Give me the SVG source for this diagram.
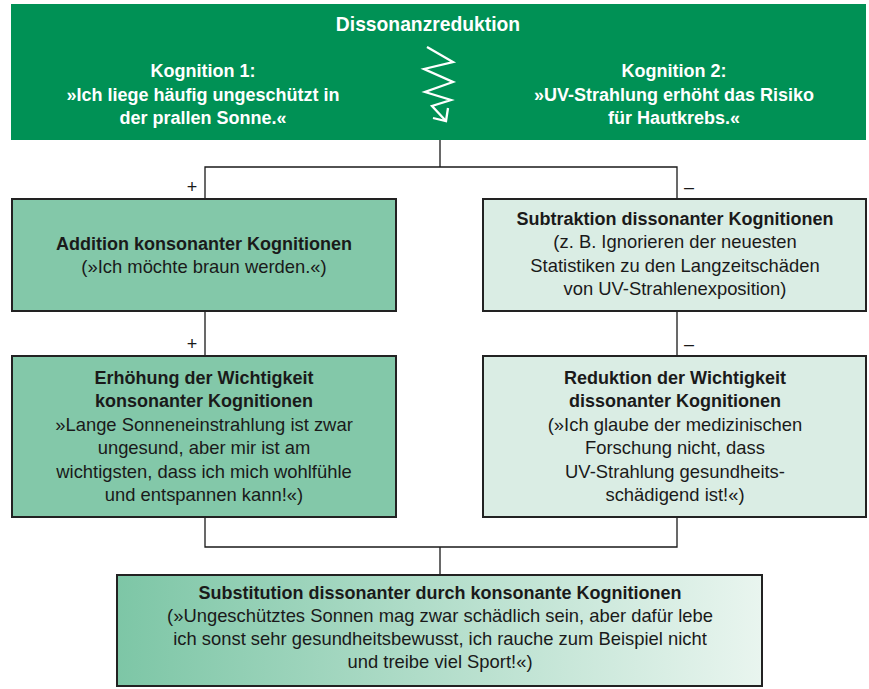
<svg xmlns="http://www.w3.org/2000/svg" width="869" height="689" viewBox="0 0 869 689">
<defs>
<linearGradient id="gsub" x1="0" y1="0" x2="1" y2="0">
<stop offset="0" stop-color="#7dc6a6"/>
<stop offset="1" stop-color="#e9f5ef"/>
</linearGradient>
</defs>
<style>
text{font-family:"Liberation Sans",Arial,sans-serif;text-anchor:middle;font-size:18.4px;fill:#1a1a1a}
.b{font-weight:bold;font-size:18px}
.w{fill:#fff;font-weight:bold;font-size:18px}
.box{stroke:#222;stroke-width:2}
.mid{fill:#83c8a9}
.light{fill:#daede4}
.con{fill:none;stroke:#1a1a1a;stroke-width:1.3}
.sg{font-size:18px}
.zz{fill:none;stroke:#fff;stroke-width:2.3}
</style>
<g id="top">
<rect x="11" y="4" width="855" height="136" fill="#009155"/>
<text class="w" x="428" y="31" style="font-size:19.3px">Dissonanzreduktion</text>
<text class="w" x="203" y="77">Kognition 1:</text>
<text class="w" x="203" y="101">»Ich liege häufig ungeschützt in</text>
<text class="w" x="203" y="124">der prallen Sonne.«</text>
<text class="w" x="674" y="77">Kognition 2:</text>
<text class="w" x="674" y="101">»UV-Strahlung erhöht das Risiko</text>
<text class="w" x="674" y="124">für Hautkrebs.«</text>
<polyline class="zz" points="427,47 453,62 424,69 453,82 425,92 451,100 432,106 446,121"/>
<polyline class="zz" points="433,118 446,121 448,108"/>
</g>
<g id="connectors">
<path class="con" d="M440,140 V167 M205,198 V167 H677 V198"/>
<path class="con" d="M205,311 V356 M677,311 V356"/>
<path class="con" d="M205,517 V547 H677 V517 M440,547 V575"/>
<text class="sg" x="192" y="193">+</text>
<text class="sg" x="689" y="193">–</text>
<text class="sg" x="192" y="350">+</text>
<text class="sg" x="689" y="350">–</text>
</g>
<g id="addition">
<rect class="box mid" x="12" y="199" width="384" height="112"/>
<text class="b" x="204" y="250">Addition konsonanter Kognitionen</text>
<text x="204" y="273">(»Ich möchte braun werden.«)</text>
</g>
<g id="subtraktion">
<rect class="box light" x="483" y="199" width="383" height="112"/>
<text class="b" x="675" y="225">Subtraktion dissonanter Kognitionen</text>
<text x="675" y="248">(z. B. Ignorieren der neuesten</text>
<text x="675" y="272">Statistiken zu den Langzeitschäden</text>
<text x="675" y="295">von UV-Strahlenexposition)</text>
</g>
<g id="erhoehung">
<rect class="box mid" x="12" y="356" width="384" height="161"/>
<text class="b" x="204" y="384">Erhöhung der Wichtigkeit</text>
<text class="b" x="204" y="407">konsonanter Kognitionen</text>
<text x="204" y="431">»Lange Sonneneinstrahlung ist zwar</text>
<text x="204" y="454">ungesund, aber mir ist am</text>
<text x="204" y="478">wichtigsten, dass ich mich wohlfühle</text>
<text x="204" y="501">und entspannen kann!«)</text>
</g>
<g id="reduktion">
<rect class="box light" x="483" y="356" width="383" height="161"/>
<text class="b" x="675" y="384">Reduktion der Wichtigkeit</text>
<text class="b" x="675" y="407">dissonanter Kognitionen</text>
<text x="675" y="431">(»Ich glaube der medizinischen</text>
<text x="675" y="454">Forschung nicht, dass</text>
<text x="675" y="478">UV-Strahlung gesundheits-</text>
<text x="675" y="501">schädigend ist!«)</text>
</g>
<g id="substitution">
<rect class="box" x="117" y="575" width="645" height="111" fill="url(#gsub)"/>
<text class="b" x="440" y="599">Substitution dissonanter durch konsonante Kognitionen</text>
<text x="440" y="622">(»Ungeschütztes Sonnen mag zwar schädlich sein, aber dafür lebe</text>
<text x="440" y="645">ich sonst sehr gesundheitsbewusst, ich rauche zum Beispiel nicht</text>
<text x="440" y="668">und treibe viel Sport!«)</text>
</g>
</svg>
